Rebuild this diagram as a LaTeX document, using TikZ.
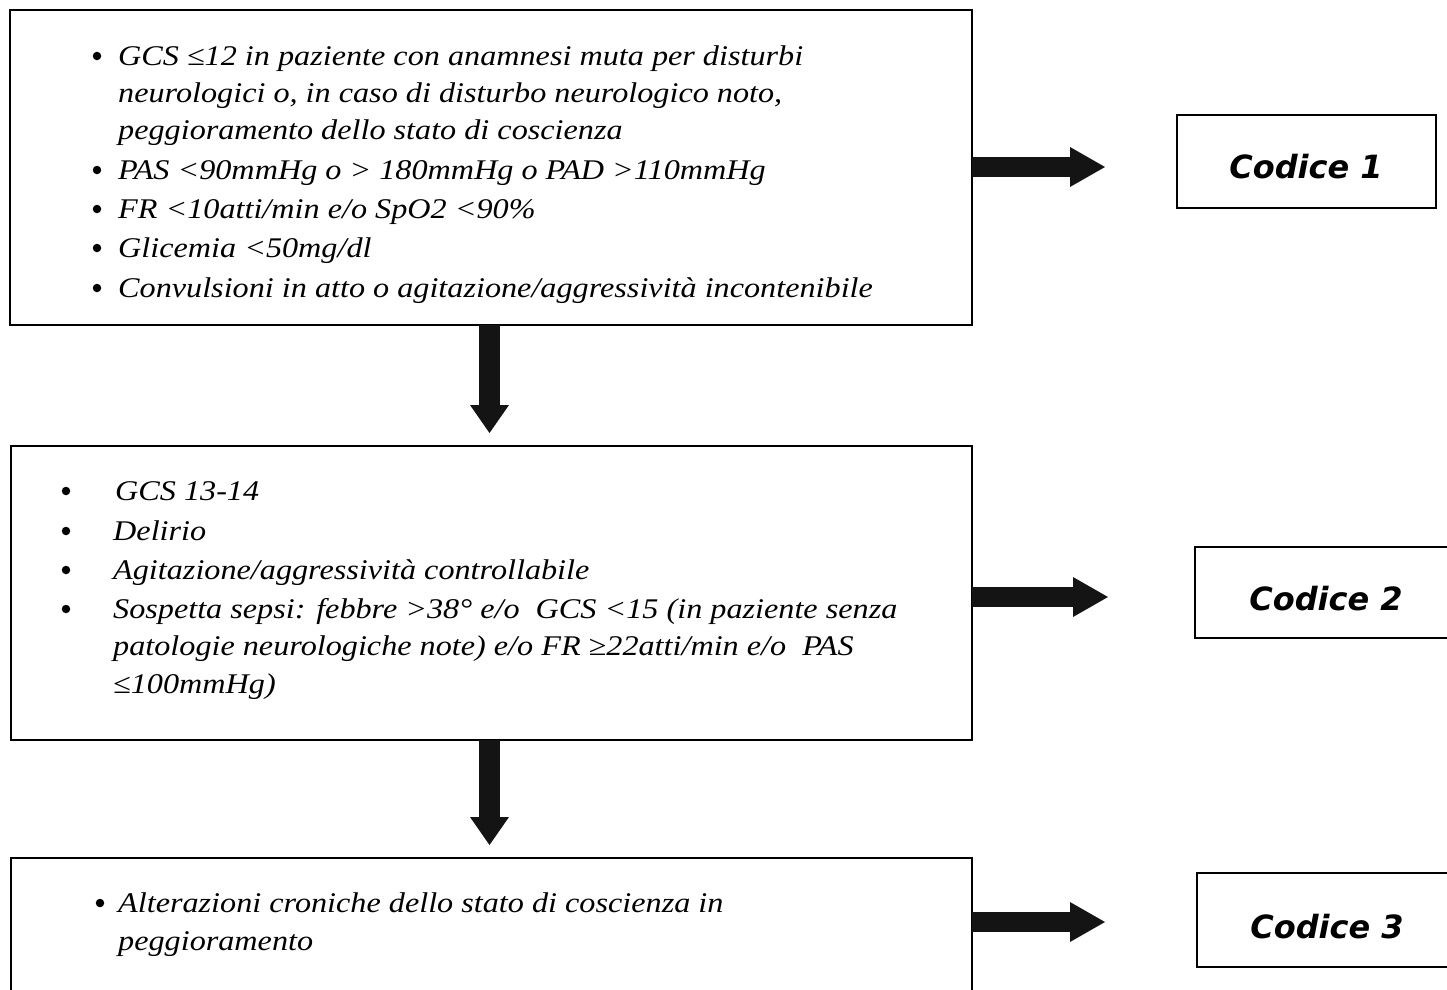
\documentclass[tikz,border=0pt]{standalone}
\usepackage{fontspec}
\setmainfont{Liberation Serif}
\newfontfamily\bodyfont[FakeStretch=1.13]{Liberation Serif}
\newfontfamily\codefont{DejaVu Sans}
\usetikzlibrary{arrows.meta}
\begin{document}
\begin{tikzpicture}[x=1pt,y=-1pt,
 box/.style={draw, line width=1.6pt, anchor=north west, inner sep=0pt, outer sep=0pt},
 ln/.style={anchor=base west, inner sep=0pt, font=\bodyfont\itshape\fontsize{28.5}{34}\selectfont},
 bul/.style={circle, fill=black, inner sep=0pt, minimum size=8.5pt},
 code/.style={anchor=base, inner sep=0pt, font=\codefont\bfseries\itshape\fontsize{32}{38}\selectfont},
 blk/.style={line width=20pt, draw=black!92, -{Triangle[length=35pt,width=40pt,line width=0pt]}},
 blkd/.style={line width=21pt, draw=black!92, -{Triangle[length=28pt,width=39pt,line width=0pt]}}
]
\useasboundingbox (0,0) rectangle (1447,989);
\clip (0,0) rectangle (1447,989);

% main boxes
\node[box, minimum width=962pt, minimum height=315pt] (b1) at (10,10) {};
\node[box, minimum width=961pt, minimum height=294pt] (b2) at (11,446) {};
\node[box, minimum width=961pt, minimum height=200pt] (b3) at (11,858) {};

% code boxes
\node[box, minimum width=259pt, minimum height=93pt] (c1) at (1177,115) {};
\node[box, minimum width=280pt, minimum height=91pt] (c2) at (1195,547) {};
\node[box, minimum width=280pt, minimum height=94pt] (c3) at (1197,873) {};
\node[code] (t1) at (1306,178) {Codice 1};
\node[code] (t2) at (1326,610) {Codice 2};
\node[code] (t3) at (1327,938) {Codice 3};

% box 1 text
\node[bul] (p11) at (97,56) {};
\node[ln] (l11) at (118,65) {GCS ≤12 in paziente con anamnesi muta per disturbi};
\node[ln] (l12) at (118,102) {neurologici o, in caso di disturbo neurologico noto,};
\node[ln] (l13) at (118,139) {peggioramento dello stato di coscienza};
\node[bul] (p14) at (97,170) {};
\node[ln] (l14) at (118,179) {PAS <90mmHg o > 180mmHg o PAD >110mmHg};
\node[bul] (p15) at (97,209) {};
\node[ln] (l15) at (118,218) {FR <10atti/min e/o SpO2 <90\%};
\node[bul] (p16) at (97,248) {};
\node[ln] (l16) at (118,257) {Glicemia <50mg/dl};
\node[bul] (p17) at (97,288) {};
\node[ln] (l17) at (118,297) {Convulsioni in atto o agitazione/aggressività incontenibile};

% box 2 text
\node[bul] (p21) at (66,491) {};
\node[ln] (l21) at (115,500) {GCS 13-14};
\node[bul] (p22) at (66,531) {};
\node[ln] (l22) at (113,540) {Delirio};
\node[bul] (p23) at (66,570) {};
\node[ln] (l23) at (113,579) {Agitazione/aggressività controllabile};
\node[bul] (p24) at (66,609) {};
\node[ln] (l24) at (113,618) {Sospetta sepsi: febbre >38° e/o~~GCS <15 (in paziente senza};
\node[ln] (l25) at (113,655) {patologie neurologiche note) e/o FR ≥22atti/min e/o~~PAS};
\node[ln] (l26) at (113,693) {≤100mmHg)};

% box 3 text
\node[bul] (p31) at (100,903) {};
\node[ln] (l31) at (118,912) {Alterazioni croniche dello stato di coscienza in};
\node[ln] (l32) at (118,950) {peggioramento};

% arrows
\coordinate (r1) at (1105,167);
\draw[blk] (b1.east |- r1) -- (r1);
\coordinate (r2) at (1108,597);
\draw[blk] (b2.east |- r2) -- (r2);
\coordinate (r3) at (1105,922);
\draw[blk] (b3.east |- r3) -- (r3);
\coordinate (d1) at (489.5,433);
\draw[blkd] (b1.south -| d1) -- (d1);
\coordinate (d2) at (489.5,845);
\draw[blkd] (b2.south -| d2) -- (d2);
\end{tikzpicture}
\end{document}
